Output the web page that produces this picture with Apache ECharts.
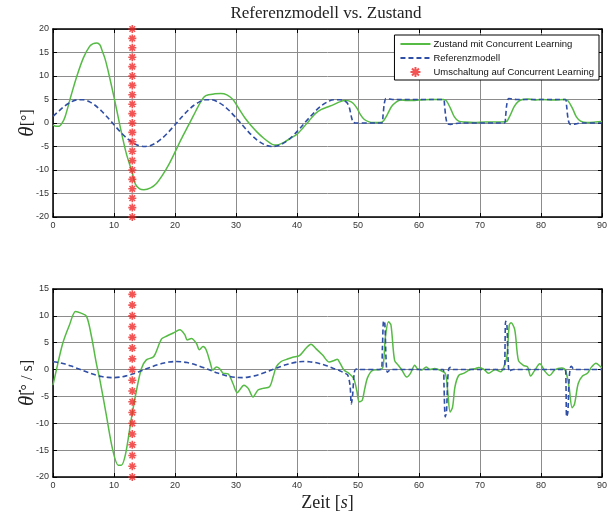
<!DOCTYPE html>
<html>
<head>
<meta charset="utf-8">
<script src="https://cdn.jsdelivr.net/npm/echarts@6/dist/echarts.min.js"></script>
<style>
  html, body { margin: 0; padding: 0; background: #fff; }
  #chart { width: 611px; height: 515px; }
</style>
</head>
<body>
<div id="chart"></div>
<script>
// x ticks (s), y ticks per panel
const timeTicks = [0, 10, 20, 30, 40, 50, 60, 70, 80, 90]
const thetaRange = [-20, 20]
const omegaRange = [-20, 15]

// theta [deg] - Zustand mit Concurrent Learning
const zustandTheta = [
  [0,-0.4],[0.5,-0.7],[1,-0.7],[1.5,0],[2,1.4],[3,6],[4,10.3],[5,13.9],[6,16.3],[6.6,16.9],[7.2,17],
  [7.7,16.6],[8,15.6],[8.5,13.8],[9,11.3],[10,5.5],[11,-0.7],[12,-6.4],[13,-10.6],[13.5,-13],[14.2,-14],
  [14.9,-14.2],[16,-13.8],[17,-12.8],[18,-11],[19,-8.8],[20,-6.2],[21,-3.5],[22,-1],[23,1.5],[24,4],
  [24.8,5.6],[25.5,6],[26.5,6.2],[27.5,6.3],[28.5,6],[29.5,5],[30.5,3],[31.5,1],[32.5,-0.6],[33.5,-2],
  [34.5,-3.2],[35.5,-4.2],[36.3,-4.7],[37,-4.6],[38,-4],[39,-3.2],[40,-2.4],[41,-1],[42,0.5],[43,2],
  [44,2.9],[45,3.4],[46,3.9],[47,4.5],[47.8,4.8],[48.5,4.7],[49.2,4.2],[49.8,3.2],[50.4,1.8],[51,0.8],
  [51.7,0.3],[52.5,0.1],[53.6,0.1],[54.2,0.5],[54.8,1.8],[55.5,3.5],[56.3,4.5],[57,4.9],[58,4.8],[59,4.8],
  [60,4.9],[62,5],[64,5],[64.5,4.7],[65.2,3],[65.8,1.3],[66.5,0.4],[67.5,0.2],[69,0.1],[71,0.2],[73,0.2],
  [74.3,0.3],[74.9,1.5],[75.6,3.5],[76.3,4.6],[77,5],[78,5.1],[79,4.9],[80,5],[82,4.9],[84,5],[84.5,4.6],
  [85.2,3],[85.8,1.3],[86.5,0.4],[87.5,0.1],[89,0.2],[90,0.3]
]

// theta [deg] - Referenzmodell
const referenzTheta = [
  [0,1.4],[1,2.6],[2,3.7],[3,4.5],[4,4.94],[5,4.94],[6,4.5],[7,3.67],[8,2.5],[9,1.11],[10,-0.37],
  [11,-1.83],[12,-3.12],[13,-4.13],[14,-4.78],[15,-5],[16,-4.78],[17,-4.13],[18,-3.12],[19,-1.83],
  [20,-0.37],[21,1.11],[22,2.5],[23,3.67],[24,4.5],[25,4.94],[26,4.94],[27,4.5],[28,3.67],[29,2.5],
  [30,1.11],[31,-0.37],[32,-1.83],[33,-3.12],[34,-4.13],[35,-4.78],[36,-5],[37,-4.78],[38,-4.13],
  [39,-3.12],[40,-1.83],[41,-0.37],[42,1.11],[43,2.5],[44,3.67],[45,4.5],[46,4.94],[47,4.94],[47.6,4.8],
  [48.2,4.3],[48.6,3.2],[48.9,1.4],[49.2,0.2],[49.6,0],[53.9,0],[54.1,1.5],[54.3,4],[54.6,5.2],[55.2,5.1],
  [56,5],[64,5],[64.2,3.6],[64.4,1.2],[64.7,-0.2],[65.2,-0.3],[66,-0.1],[67,0],[74,0],[74.2,1.5],
  [74.4,4],[74.7,5.2],[75.3,5.1],[76,5],[84,5],[84.2,3.6],[84.4,1.2],[84.7,-0.2],[85.2,-0.3],[86,-0.1],
  [87,0],[90,0]
]

// theta-dot [deg/s] - Zustand mit Concurrent Learning
const zustandOmega = [
  [0,-2.9],[0.55,-0.1],[1.6,4.9],[2.7,8.3],[3.7,10.8],[4.6,10.5],[5.5,9.9],[6.3,6.2],[7.1,1.2],[7.7,-2],
  [8.7,-8.2],[9.8,-15],[10.7,-17.8],[11.2,-17.8],[11.9,-15.7],[12.8,-9.4],[13.7,-3.8],[14.5,0.2],
  [15.3,1.8],[16.4,2.3],[16.8,3],[17.8,5.7],[18.6,6.2],[19.7,6.8],[20.8,7.4],[21.6,6.5],[22,5.5],
  [22.7,5.8],[23.5,4.9],[24,3.7],[24.6,4.3],[25.1,3.7],[25.8,1.2],[26.2,-0.1],[26.8,0.5],[27.3,0.2],
  [27.9,-0.7],[28.7,-0.8],[29.5,-2.6],[30.2,-4.3],[30.6,-3.8],[31.3,-2.9],[32,-3.5],[32.8,-5.1],
  [33.6,-3.8],[34.4,-3.5],[35.5,-3.2],[36.1,-1.3],[36.6,0.5],[37.4,1.5],[38.3,1.9],[39.3,2.3],[40.4,2.6],
  [41.5,4],[42.3,4.7],[43.1,3.9],[44.2,2.7],[45.3,1.4],[46.1,1.7],[46.6,1.9],[47.1,1.1],[47.7,-0.1],
  [48.5,-0.7],[49.3,-1.7],[49.8,-3.9],[50.2,-6],[50.7,-5.7],[51.1,-3.6],[51.6,-1.4],[52.5,-0.1],
  [53.6,0],[54.1,0.5],[54.5,6.1],[55,8.9],[55.4,8.3],[56,1.7],[56.6,0.8],[57.2,-0.1],[58,-1.4],
  [58.6,-0.7],[59.3,0.8],[59.7,0.2],[60.4,-0.1],[61.2,0.5],[61.8,0],[62.6,0.2],[63.4,-0.1],[64.3,-0.7],
  [64.7,-3.9],[65.1,-7.9],[65.5,-7],[65.9,-3.2],[66.5,-1.1],[67.3,-0.7],[68.4,0],[69.3,0.2],[69.8,0.4],
  [70.6,0.1],[71.4,-0.7],[72.5,0],[73.4,-0.4],[73.9,0.5],[74.4,2.4],[74.8,8.3],[75.1,8.7],[75.7,7.4],
  [76.3,1.7],[77.1,0.8],[77.8,0.5],[78.3,-1.2],[79,-0.1],[79.8,1.1],[80.7,-0.4],[81.4,-1.1],[82.3,0],
  [83.4,0.3],[84,-0.1],[84.6,-3.2],[85.1,-7.1],[85.5,-6.4],[86.1,-2.6],[86.8,-1.2],[87.6,-0.7],
  [88.3,0.5],[89,1.2],[89.8,0.5],[90,0.4]
]

// theta-dot [deg/s] - Referenzmodell
const referenzOmega = [
  [0,1.46],[1,1.3],[2,1.02],[3,0.65],[4,0.22],[5,-0.22],[6,-0.65],[7,-1.02],[8,-1.3],[9,-1.46],[10,-1.5],
  [11,-1.4],[12,-1.17],[13,-0.84],[14,-0.44],[15,0],[16,0.44],[17,0.84],[18,1.17],[19,1.4],[20,1.5],
  [21,1.46],[22,1.3],[23,1.02],[24,0.65],[25,0.22],[26,-0.22],[27,-0.65],[28,-1.02],[29,-1.3],[30,-1.46],
  [31,-1.5],[32,-1.4],[33,-1.17],[34,-0.84],[35,-0.44],[36,0],[37,0.44],[38,0.84],[39,1.17],[40,1.4],
  [41,1.5],[42,1.46],[43,1.3],[44,1.02],[45,0.65],[46,0.22],[47,-0.22],[47.7,-0.6],[48.3,-1],[48.7,-3],
  [48.9,-6.4],[49.1,-5],[49.4,-0.5],[49.7,0.1],[50,0],[53.8,0],[54,4],[54.2,9.1],[54.4,8.5],[54.6,2],
  [54.8,-0.5],[55.1,-0.2],[55.5,0],[64,0],[64.1,-3],[64.3,-8.8],[64.5,-8],[64.7,-2],[64.9,0.2],[65.2,0.4],
  [65.6,0],[74,0],[74.1,4],[74.2,9],[74.4,8.5],[74.6,2],[74.8,-0.4],[75.1,-0.1],[75.5,0],[84,0],
  [84.1,-3],[84.2,-8.8],[84.4,-8],[84.6,-2],[84.8,0.3],[85,0.6],[85.3,0.1],[85.6,0],[90,0]
]

// Umschaltung auf Concurrent Learning
const switchTime = 13
const switchThetaY = [20,18,16,14,12,10,8,6,4,2,0,-2,-4,-6,-8,-10,-12,-14,-16,-18,-20]
const switchOmegaY = [14,12,10,8,6,4,2,0,-2,-4,-6,-8,-10,-12,-14,-16,-18,-20]

const NAME_Z = 'Zustand mit Concurrent Learning'
const NAME_R = 'Referenzmodell'
const NAME_U = 'Umschaltung auf Concurrent Learning'

const GREEN = '#55bb44'
const BLUE = '#2f4ea6'
const RED = '#f02828'
const STAR = 'path://M-1,-5L1,-5L1,5L-1,5Z M-5,-1L5,-1L5,1L-5,1Z M-2.8,-4.2L4.2,2.8L2.8,4.2L-4.2,-2.8Z M2.8,-4.2L4.2,-2.8L-2.8,4.2L-4.2,2.8Z'

const sans = 'Liberation Sans, Arial, sans-serif'
const serif = 'Liberation Serif, Times New Roman, serif'

function xAx (grid, bottom, name) {
    return {
        type: 'value', gridIndex: grid, position: bottom ? 'bottom' : 'top',
        min: timeTicks[0], max: timeTicks[timeTicks.length - 1], interval: 10,
        axisLine: {show: true, onZero: false, lineStyle: {color: '#000', width: 1.5}},
        axisTick: {show: true, inside: true, length: 4, lineStyle: {color: '#000'}},
        axisLabel: {show: bottom, color: '#333', fontSize: 9, fontFamily: sans, margin: 4},
        splitLine: {show: bottom, lineStyle: {color: '#8c8c8c', width: 1}},
        name: name || '', nameLocation: 'middle', nameGap: 17, nameMoveOverlap: false,
        nameTextStyle: {
            color: '#222', fontFamily: serif, fontSize: 18,
            rich: {
                i: {fontFamily: serif, fontStyle: 'italic', fontSize: 18, color: '#222'},
                n: {fontFamily: serif, fontSize: 18, color: '#222'}
            }
        }
    }
}

function yAx (grid, left, range, name) {
    return {
        type: 'value', gridIndex: grid, position: left ? 'left' : 'right',
        min: range[0], max: range[1], interval: 5,
        axisLine: {show: true, onZero: false, lineStyle: {color: '#000', width: 1.5}},
        axisTick: {show: true, inside: true, length: 4, lineStyle: {color: '#000'}},
        axisLabel: {show: left, color: '#333', fontSize: 9, fontFamily: sans, margin: 4},
        splitLine: {show: left, lineStyle: {color: '#8c8c8c', width: 1}},
        name: name || '', nameLocation: 'middle', nameGap: 15, nameMoveOverlap: false,
        nameTextStyle: {
            color: '#222', fontFamily: serif, fontSize: 16,
            rich: {
                t: {fontFamily: serif, fontStyle: 'italic', fontSize: 21, color: '#222'},
                n: {fontFamily: serif, fontSize: 16, color: '#222'}
            }
        }
    }
}

function lineSeries (name, data, axis, dashed) {
    return {
        name: name, type: 'line', data: data, xAxisIndex: axis, yAxisIndex: axis,
        symbol: 'none', smooth: 0.3, z: dashed ? 4 : 3,
        lineStyle: dashed
            ? {color: BLUE, width: 1.6, type: [5, 3]}
            : {color: GREEN, width: 1.5},
        itemStyle: {color: dashed ? BLUE : GREEN}
    }
}

const chart = echarts.init(document.getElementById('chart'), null, {renderer: 'canvas'})

chart.setOption({
    backgroundColor: '#fff',
    animation: false,
    title: {
        text: 'Referenzmodell vs. Zustand', left: 326, top: 5, textAlign: 'center', padding: 0,
        textStyle: {fontFamily: serif, fontWeight: 'normal', fontSize: 17, color: '#222'}
    },
    legend: {
        orient: 'vertical', right: 12, top: 35, padding: [4, 5, 3, 5], itemGap: 4,
        itemWidth: 30, itemHeight: 10,
        borderColor: '#000', borderWidth: 1, backgroundColor: '#fff', borderRadius: 0,
        textStyle: {fontFamily: sans, fontSize: 9.5, color: '#111', padding: [0, 0, 0, -2]},
        data: [
            {name: NAME_Z, itemStyle: {opacity: 0}},
            {name: NAME_R, itemStyle: {opacity: 0}},
            {name: NAME_U, icon: STAR, itemStyle: {color: RED}}
        ]
    },
    grid: [
        {left: 53, top: 29, width: 549, height: 188},
        {left: 53, top: 289, width: 549, height: 188}
    ],
    xAxis: [
        xAx(0, true), xAx(1, true, '{n|Zeit [}{i|s}{n|]}'),
        xAx(0, false), xAx(1, false)
    ],
    yAxis: [
        yAx(0, true, thetaRange, '{t|θ}{n|[°]}'),
        yAx(1, true, omegaRange, '{t|θ\u0307}{n|[° / s]}'),
        yAx(0, false, thetaRange), yAx(1, false, omegaRange)
    ],
    series: [
        lineSeries(NAME_Z, zustandTheta, 0, false),
        lineSeries(NAME_R, referenzTheta, 0, true),
        {
            name: NAME_U, type: 'scatter', xAxisIndex: 0, yAxisIndex: 0, z: 5, clip: false,
            symbol: STAR, symbolSize: 8, itemStyle: {color: RED},
            data: switchThetaY.map(v => [switchTime, v])
        },
        lineSeries(NAME_Z, zustandOmega, 1, false),
        lineSeries(NAME_R, referenzOmega, 1, true),
        {
            name: NAME_U, type: 'scatter', xAxisIndex: 1, yAxisIndex: 1, z: 5, clip: false,
            symbol: STAR, symbolSize: 8, itemStyle: {color: RED},
            data: switchOmegaY.map(v => [switchTime, v])
        }
    ]
})
</script>
</body>
</html>
